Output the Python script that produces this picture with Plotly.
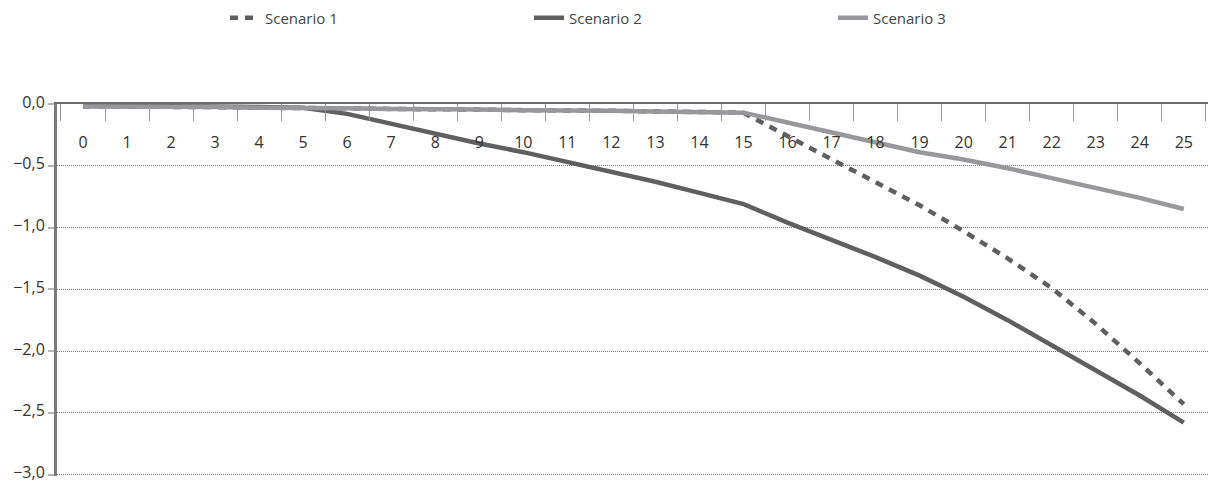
import plotly.graph_objects as go

years = [str(i) for i in range(26)]

scenario_1 = [-0.02, -0.02, -0.025, -0.025, -0.03, -0.03, -0.035, -0.04, -0.04, -0.045, -0.05, -0.05,
              -0.055, -0.06, -0.065, -0.07, -0.26, -0.45, -0.63, -0.82, -1.03, -1.25, -1.49,
              -1.78, -2.10, -2.43]
scenario_2 = [-0.015, -0.015, -0.02, -0.02, -0.025, -0.03, -0.08, -0.16, -0.24, -0.32, -0.39, -0.47,
              -0.55, -0.63, -0.72, -0.81, -0.96, -1.10, -1.24, -1.39, -1.56, -1.75, -1.95,
              -2.15, -2.36, -2.58]
scenario_3 = [-0.02, -0.02, -0.025, -0.025, -0.03, -0.03, -0.035, -0.04, -0.04, -0.045, -0.05, -0.05,
              -0.055, -0.06, -0.065, -0.07, -0.15, -0.23, -0.31, -0.39, -0.45, -0.52, -0.60,
              -0.68, -0.76, -0.85]

names = ["Scenario 1", "Scenario 2", "Scenario 3"]
dark = "#5f5f5f"
light = "#98989c"

fig = go.Figure()
fig.add_trace(go.Scatter(x=years, y=scenario_1, name=names[0], mode="lines",
                         line=dict(color=dark, width=4.5, dash="8px,7px")))
fig.add_trace(go.Scatter(x=years, y=scenario_2, name=names[1], mode="lines",
                         line=dict(color=dark, width=4.5)))
fig.add_trace(go.Scatter(x=years, y=scenario_3, name=names[2], mode="lines",
                         line=dict(color=light, width=4.5)))
# label carrier on the overlaying axis (invisible, same category data)
fig.add_trace(go.Scatter(x=years, y=scenario_3, xaxis="x2", mode="lines",
                         line=dict(width=0), opacity=0, showlegend=False, hoverinfo="skip"))

font_family = "Open Sans, Noto Sans, sans-serif"
plot_top, plot_h = 104, 372

fig.update_layout(
    width=1208, height=484,
    margin=dict(l=57, r=0, t=plot_top, b=484 - plot_top - plot_h, autoexpand=False),
    paper_bgcolor="white", plot_bgcolor="white",
    separators=",.",
    font=dict(family=font_family, size=16, color="#333333"),
    showlegend=True,
    legend=dict(orientation="h", x=(225 - 57) / 1151, xanchor="left",
                y=1 + (plot_top - 18) / plot_h, yanchor="middle",
                entrywidth=259, entrywidthmode="pixels",
                font=dict(size=15, color="#444444", family=font_family),
                bgcolor="rgba(0,0,0,0)"),
    xaxis=dict(type="category", side="top", range=[-0.59, 25.55],
               tickson="boundaries", ticks="inside", ticklen=17, tickcolor="#9a9a9a", tickwidth=1,
               showline=True, linecolor="#6a6a6a", linewidth=2,
               showgrid=False, zeroline=False, showticklabels=False),
    xaxis2=dict(type="category", matches="x", overlaying="x", anchor="free",
                side="bottom", position=1 - (131 - plot_top) / plot_h,
                showline=False, ticks="", showgrid=False, zeroline=False,
                ticklabelstandoff=0,
                tickfont=dict(size=16, color="#333333")),
    yaxis=dict(range=[-3.012, 0], tickvals=[0, -0.5, -1, -1.5, -2, -2.5, -3], tickformat=".1f",
               showline=True, linecolor="#7a7a7a", linewidth=3,
               ticks="outside", ticklen=6, tickcolor="#b5b5b5", tickwidth=2,
               ticklabeloverflow="allow", ticklabelshift=-2,
               showgrid=True, gridcolor="#7a7a7a", gridwidth=1, griddash="1px,1px",
               zeroline=False, tickfont=dict(size=16, color="#333333")),
)

fig.write_html("out.html", post_script="document.body.style.margin='0';",
               config={"displayModeBar": False})
